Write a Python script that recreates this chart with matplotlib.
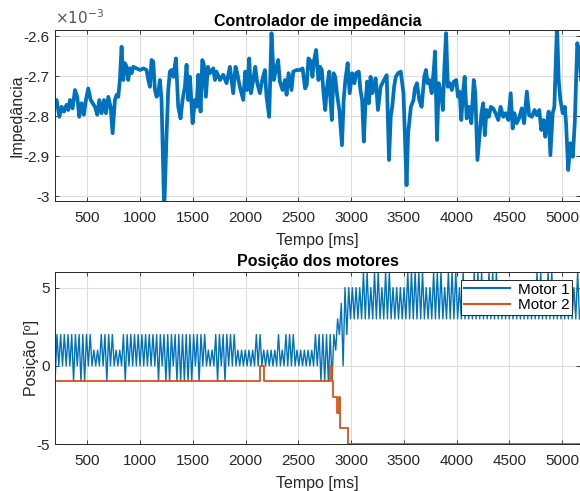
import numpy as np
import matplotlib
matplotlib.use("Agg")
import matplotlib.pyplot as plt
from matplotlib.ticker import FuncFormatter

plt.rcParams['font.family'] = ['Liberation Sans', 'DejaVu Sans']
plt.rcParams['axes.unicode_minus'] = False

# ---------------- data: impedance controller (x1e-3) ----------------
imp_t = [194, 209, 235, 257, 279, 304, 320, 336, 361, 383,
         405, 424, 446, 468, 487, 509, 532, 551, 573, 595,
         614, 636, 658, 677, 699, 721, 740, 762, 778, 794,
         809, 825, 841, 857, 873, 888, 904, 920, 936, 967,
         999, 1031, 1062, 1078, 1094, 1109, 1125, 1141, 1157, 1173,
         1188, 1204, 1229, 1252, 1267, 1283, 1299, 1315, 1340, 1362,
         1384, 1403, 1425, 1441, 1457, 1473, 1498, 1520, 1536, 1552,
         1574, 1590, 1605, 1624, 1643, 1662, 1694, 1710, 1725, 1757,
         1788, 1820, 1852, 1867, 1883, 1905, 1921, 1946, 1978, 1997,
         2016, 2035, 2051, 2073, 2092, 2111, 2136, 2155, 2183, 2199,
         2224, 2246, 2268, 2287, 2309, 2325, 2351, 2373, 2389, 2408,
         2436, 2452, 2484, 2516, 2541, 2564, 2580, 2596, 2618, 2634,
         2650, 2669, 2691, 2707, 2723, 2739, 2755, 2771, 2793, 2803,
         2818, 2834, 2850, 2866, 2889, 2914, 2930, 2946, 2968, 2987,
         3010, 3032, 3048, 3073, 3089, 3105, 3121, 3137, 3153, 3169,
         3185, 3201, 3217, 3233, 3255, 3280, 3312, 3338, 3360, 3376,
         3392, 3408, 3424, 3446, 3471, 3497, 3526, 3541, 3567, 3592,
         3605, 3624, 3647, 3669, 3694, 3710, 3726, 3742, 3764, 3784,
         3796, 3815, 3831, 3854, 3870, 3885, 3901, 3917, 3936, 3955,
         3975, 3997, 4013, 4029, 4045, 4061, 4077, 4096, 4118, 4140,
         4163, 4178, 4198, 4220, 4236, 4252, 4268, 4284, 4306, 4325,
         4347, 4370, 4395, 4417, 4443, 4465, 4491, 4513, 4532, 4548,
         4570, 4592, 4618, 4640, 4666, 4688, 4714, 4739, 4761, 4784,
         4803, 4825, 4841, 4857, 4873, 4889, 4911, 4927, 4952, 4968,
         4984, 5006, 5026, 5038, 5058, 5080, 5102, 5121, 5144, 5166,
         5185]
imp_v = [-2.772, -2.760, -2.802, -2.777, -2.789, -2.772, -2.785, -2.760, -2.781, -2.735,
         -2.752, -2.802, -2.768, -2.797, -2.760, -2.731, -2.760, -2.768, -2.777, -2.797,
         -2.760, -2.793, -2.760, -2.793, -2.752, -2.777, -2.843, -2.760, -2.747, -2.752,
         -2.710, -2.627, -2.710, -2.668, -2.677, -2.710, -2.681, -2.693, -2.677, -2.681,
         -2.685, -2.681, -2.685, -2.710, -2.727, -2.660, -2.664, -2.735, -2.752, -2.743,
         -2.710, -2.760, -3.040, -2.843, -2.735, -2.689, -2.685, -2.702, -2.656, -2.777,
         -2.806, -2.760, -2.727, -2.672, -2.760, -2.702, -2.818, -2.760, -2.777, -2.697,
         -2.789, -2.660, -2.672, -2.752, -2.677, -2.693, -2.681, -2.710, -2.689, -2.710,
         -2.697, -2.718, -2.677, -2.710, -2.743, -2.677, -2.693, -2.727, -2.760, -2.689,
         -2.735, -2.656, -2.743, -2.710, -2.677, -2.718, -2.743, -2.714, -2.685, -2.752,
         -2.802, -2.593, -2.710, -2.685, -2.660, -2.714, -2.735, -2.710, -2.747, -2.693,
         -2.735, -2.689, -2.685, -2.685, -2.681, -2.731, -2.723, -2.656, -2.664, -2.702,
         -2.660, -2.635, -2.710, -2.677, -2.685, -2.743, -2.785, -2.731, -2.689, -2.752,
         -2.810, -2.693, -2.702, -2.743, -2.785, -2.873, -2.760, -2.710, -2.668, -2.743,
         -2.693, -2.718, -2.693, -2.689, -2.735, -2.760, -2.864, -2.768, -2.714, -2.768,
         -2.702, -2.743, -2.727, -2.706, -2.785, -2.727, -2.710, -2.698, -2.910, -2.802,
         -2.773, -2.727, -2.702, -2.693, -2.689, -2.743, -2.973, -2.843, -2.777, -2.760,
         -2.731, -2.718, -2.760, -2.777, -2.702, -2.685, -2.718, -2.710, -2.743, -2.685,
         -2.639, -2.860, -2.718, -2.743, -2.785, -2.677, -2.593, -2.727, -2.718, -2.735,
         -2.714, -2.710, -2.752, -2.739, -2.810, -2.743, -2.702, -2.806, -2.777, -2.818,
         -2.710, -2.743, -2.910, -2.843, -2.793, -2.768, -2.848, -2.785, -2.802, -2.777,
         -2.781, -2.793, -2.810, -2.777, -2.802, -2.793, -2.810, -2.743, -2.831, -2.793,
         -2.818, -2.806, -2.781, -2.818, -2.739, -2.798, -2.802, -2.785, -2.798, -2.785,
         -2.835, -2.810, -2.852, -2.818, -2.789, -2.898, -2.793, -2.777, -2.570, -2.710,
         -2.760, -2.793, -2.777, -2.818, -2.935, -2.868, -2.902, -2.814, -2.618, -2.643,
         -2.735]

# ---------------- data: motor positions ----------------
m1_t0 = 195.0      # first sample [ms]
m1_dt = 17.5       # sample period [ms]
# alternating samples: low (trough) then high (peak) of each oscillation
m1_low = [-1, 0, 0, 0, 0, -1, 0, -1, -1, 0,
          0, 0, 0, 0, -1, 0, 0, 0, 0, -1,
          0, 0, 0, 0, 0, 0, 0, 0, -1, 0,
          -1, -1, 0, -1, -1, -1, -1, -1, 0, -1,
          0, 0, 0, 0, -1, 0, -1, 0, 0, 0,
          0, 0, 0, 0, 0, 0, 0, 0, 0, 0,
          0, 0, 0, 0, 0, 0, 0, 0, 0, 0,
          0, 0, -1, -1, -1, -1, 1, 2, 0, 2,
          3, 3, 3, 3, 3, 3, 3, 3, 3, 3,
          3, 3, 3, 3, 3, 3, 3, 3, 3, 3,
          3, 3, 3, 3, 3, 3, 3, 3, 3, 3,
          3, 3, 3, 3, 3, 3, 3, 3, 3, 3,
          3, 3, 3, 3, 3, 3, 3, 3, 3, 3,
          3, 3, 3, 3, 3, 3, 3, 3, 3, 3,
          3, 3, 3]
m1_high = [2, 2, 2, 2, 2, 2, 2, 2, 2, 2,
           1, 1, 2, 2, 2, 2, 1, 1, 2, 2,
           2, 2, 2, 2, 2, 2, 2, 2, 2, 2,
           2, 2, 2, 2, 2, 2, 2, 2, 2, 2,
           2, 1, 1, 2, 2, 2, 2, 2, 2, 1,
           1, 1, 1, 1, 2, 2, 1, 1, 1, 1,
           2, 1, 2, 2, 2, 1, 1, 1, 1, 1,
           2, 2, 2, 2, 2, 2, 3, 4, 5, 5,
           5, 5, 5, 6, 6, 5, 6, 6, 5, 6,
           6, 5, 5, 5, 5, 6, 6, 6, 6, 6,
           5, 5, 6, 6, 6, 5, 6, 6, 6, 5,
           6, 5, 5, 6, 6, 6, 5, 6, 6, 6,
           5, 5, 5, 5, 5, 5, 5, 5, 5, 5,
           6, 6, 5, 6, 6, 5, 5, 5, 5, 5,
           5, 6]
m2_t = [195, 2140, 2172, 2800, 2822, 2832, 2870, 2882, 2895, 2975, 5170]
m2_v = [-1, 0, -1, 0, -1, -2, -3, -2, -4, -5, -5]

# ---------------- build motor 1 series ----------------
m1_vals = []
for lo, hi in zip(m1_low, m1_high):
    m1_vals += [lo, hi]
m1_vals += m1_low[len(m1_high):]
m1_t = m1_t0 + m1_dt * np.arange(len(m1_vals))

# ---------------- figure ----------------
BLUE = '#0072BD'
ORANGE = '#D95319'
DARK = '#262626'
FS = 11

fig = plt.figure(figsize=(5.80, 4.91), dpi=100)
ax1 = fig.add_axes([55/580, 1-201/491, 525/580, 171/491])
ax2 = fig.add_axes([55/580, 1-444/491, 525/580, 172/491])

xticks = [500, 1000, 1500, 2000, 2500, 3000, 3500, 4000, 4500, 5000]

def style(ax):
    ax.set_xlim(194, 5170)
    ax.set_xticks(xticks)
    ax.grid(True, color='#dedede', linewidth=0.8)
    ax.set_axisbelow(True)
    ax.tick_params(direction='in', top=True, right=True, length=3,
                   colors=DARK, labelsize=FS, width=0.6)
    ax.tick_params(axis='x', pad=7)
    ax.tick_params(axis='y', pad=4)
    for s in ax.spines.values():
        s.set_color(DARK)
        s.set_linewidth(0.7)

ax1.plot(np.array(imp_t), np.array(imp_v) * 1e-3, color=BLUE, linewidth=2.7)
style(ax1)
ax1.set_ylim(-3.0125e-3, -2.585e-3)
ax1.set_yticks(np.array([-3.0, -2.9, -2.8, -2.7, -2.6]) * 1e-3)
ax1.yaxis.set_major_formatter(FuncFormatter(lambda v, p: '%g' % round(v * 1e3, 3)))
ax1.text(0.0, 1.02, '$\\times10^{-3}$', transform=ax1.transAxes,
         ha='left', va='bottom', fontsize=FS, color='#555555')
ax1.set_title('Controlador de impedância', fontsize=11.5, fontweight='bold',
              color='black', pad=3)
ax1.set_xlabel('Tempo [ms]', fontsize=FS + 0.5, color=DARK, labelpad=6)
ax1.set_ylabel('Impedância', fontsize=FS + 0.5, color=DARK, labelpad=-1)

ax2.plot(m1_t, m1_vals, color=BLUE, linewidth=1.0, label='Motor 1')
ax2.plot(m2_t, m2_v, color=ORANGE, linewidth=1.3, drawstyle='steps-post', label='Motor 2')
style(ax2)
ax2.set_ylim(-5, 6)
ax2.set_yticks([-5, 0, 5])
ax2.set_title('Posição dos motores', fontsize=11.5, fontweight='bold',
              color='black', pad=4)
ax2.set_xlabel('Tempo [ms]', fontsize=FS + 0.5, color=DARK, labelpad=6)
ax2.set_ylabel('Posição [º]', fontsize=FS + 0.5, color=DARK, labelpad=-2)
leg = ax2.legend(loc='upper right', fancybox=False, edgecolor=DARK, framealpha=1,
                 fontsize=FS, handlelength=3.0, borderaxespad=0.5,
                 borderpad=0.2, labelspacing=0.1, handletextpad=0.5)
leg.get_frame().set_linewidth(0.7)
for h in leg.get_lines():
    h.set_linewidth(1.5)

fig.savefig('out.png', dpi=100)
